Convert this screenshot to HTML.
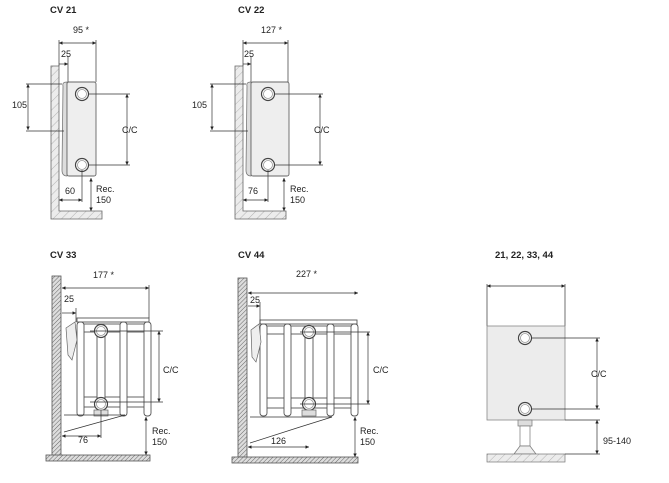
<!DOCTYPE html>
<html><head><meta charset="utf-8"><style>
html,body{margin:0;padding:0;background:#fff;}
svg{display:block;}
text{font-family:"Liberation Sans",sans-serif;font-size:9px;fill:#222;}
.t{font-weight:bold;font-size:9.5px;}
.d{stroke:#333;stroke-width:0.7;fill:none;}
.o{stroke:#555;stroke-width:0.9;fill:#fff;}
.p{stroke:#666;stroke-width:0.9;fill:#eee;}
.w{stroke:#666;stroke-width:0.8;fill:url(#h);}
</style></head><body>
<svg width="669" height="483" viewBox="0 0 669 483" xmlns="http://www.w3.org/2000/svg">
<defs>
<pattern id="h" width="6" height="6" patternUnits="userSpaceOnUse" patternTransform="rotate(45)">
<rect width="6" height="6" fill="#ececec"/><line x1="0" y1="0" x2="0" y2="6" stroke="#999" stroke-width="0.7"/></pattern>
<pattern id="h2" width="3" height="3" patternUnits="userSpaceOnUse" patternTransform="rotate(45)">
<rect width="3" height="3" fill="#ddd"/><line x1="0" y1="0" x2="0" y2="3" stroke="#666" stroke-width="1"/></pattern>
<marker id="a" viewBox="0 0 6 6" refX="6" refY="3" markerWidth="5" markerHeight="5" orient="auto-start-reverse"><path d="M0,0L6,3L0,6z" fill="#222"/></marker>
<g id="hole"><circle r="6.5" fill="#fff" stroke="#444" stroke-width="1.2"/><circle r="4.5" fill="none" stroke="#999" stroke-width="0.8"/></g>
</defs>

<!-- CV 21 -->
<text class="t" x="50" y="13">CV 21</text>
<path class="w" d="M51,66H59V211H102V219H51Z"/>
<path d="M63,86 Q62,82 67,82 L67,176 Q62,176 62,170 Z" fill="#ddd" stroke="#777" stroke-width="0.8"/>
<rect class="p" x="67" y="82" width="29" height="94" rx="2"/>
<use href="#hole" x="82" y="94"/><use href="#hole" x="82" y="165"/>
<line class="d" x1="59" y1="43" x2="96" y2="43" marker-start="url(#a)" marker-end="url(#a)"/>
<line class="d" x1="59" y1="40" x2="59" y2="66"/><line class="d" x1="96" y1="40" x2="96" y2="82"/>
<text x="73" y="33">95 *</text>
<line class="d" x1="59" y1="64" x2="68" y2="64" marker-end="url(#a)"/><line class="d" x1="68" y1="56" x2="68" y2="82"/>
<text x="61" y="57">25</text>
<line class="d" x1="28" y1="84" x2="28" y2="130" marker-start="url(#a)" marker-end="url(#a)"/>
<line class="d" x1="26" y1="84" x2="62" y2="84"/><line class="d" x1="26" y1="131" x2="64" y2="131"/>
<text x="12" y="108">105</text>
<line class="d" x1="127" y1="94" x2="127" y2="165" marker-start="url(#a)" marker-end="url(#a)"/>
<line class="d" x1="88" y1="94" x2="130" y2="94"/><line class="d" x1="88" y1="165" x2="130" y2="165"/>
<text x="122" y="133">C/C</text>
<line class="d" x1="59" y1="200" x2="82" y2="200" marker-start="url(#a)" marker-end="url(#a)"/><line class="d" x1="82" y1="170" x2="82" y2="202"/>
<text x="65" y="194">60</text>
<line class="d" x1="91" y1="178" x2="91" y2="211" marker-start="url(#a)" marker-end="url(#a)"/>
<text x="96" y="192">Rec.</text><text x="96" y="203">150</text>

<!-- CV 22 -->
<text class="t" x="238" y="13">CV 22</text>
<path class="w" d="M235,66H243V211H286V219H235Z"/>
<path d="M247,86 Q246,82 251,82 L251,176 Q246,176 246,170 Z" fill="#ddd" stroke="#777" stroke-width="0.8"/>
<rect class="p" x="251" y="82" width="38" height="94" rx="2"/>
<use href="#hole" x="268" y="94"/><use href="#hole" x="268" y="165"/>
<line class="d" x1="243" y1="43" x2="288" y2="43" marker-start="url(#a)" marker-end="url(#a)"/>
<line class="d" x1="243" y1="40" x2="243" y2="66"/><line class="d" x1="288" y1="40" x2="288" y2="82"/>
<text x="261" y="33">127 *</text>
<line class="d" x1="243" y1="64" x2="251" y2="64" marker-end="url(#a)"/><line class="d" x1="251" y1="56" x2="251" y2="82"/>
<text x="244" y="57">25</text>
<line class="d" x1="212" y1="84" x2="212" y2="130" marker-start="url(#a)" marker-end="url(#a)"/>
<line class="d" x1="210" y1="84" x2="246" y2="84"/><line class="d" x1="210" y1="131" x2="248" y2="131"/>
<text x="192" y="108">105</text>
<line class="d" x1="320" y1="94" x2="320" y2="165" marker-start="url(#a)" marker-end="url(#a)"/>
<line class="d" x1="274" y1="94" x2="323" y2="94"/><line class="d" x1="274" y1="165" x2="323" y2="165"/>
<text x="314" y="133">C/C</text>
<line class="d" x1="243" y1="200" x2="268" y2="200" marker-start="url(#a)" marker-end="url(#a)"/><line class="d" x1="268" y1="170" x2="268" y2="202"/>
<text x="248" y="194">76</text>
<line class="d" x1="284" y1="178" x2="284" y2="211" marker-start="url(#a)" marker-end="url(#a)"/>
<text x="290" y="192">Rec.</text><text x="290" y="203">150</text>

<!-- CV 33 -->
<text class="t" x="50" y="258">CV 33</text>
<rect x="52" y="276" width="9" height="182" fill="url(#h2)" stroke="#555" stroke-width="0.8"/>
<rect x="46" y="455" width="104" height="6" fill="url(#h2)" stroke="#555" stroke-width="0.8"/>
<rect class="o" x="77" y="318" width="72" height="4"/>
<rect class="o" x="83" y="324" width="62" height="8"/><rect class="o" x="83" y="397" width="62" height="10"/>
<rect class="o" x="97" y="333" width="8" height="65"/>
<rect class="o" x="77" y="322" width="7" height="94" rx="3"/>
<rect class="o" x="120" y="322" width="7" height="94" rx="3"/>
<rect class="o" x="144" y="322" width="7" height="94" rx="3"/>
<path d="M66,328 L75,322 L77,340 L72,360 L68,355 Z" fill="#eee" stroke="#666" stroke-width="0.7"/>
<use href="#hole" x="101" y="331"/><use href="#hole" x="101" y="404"/>
<rect x="94" y="410" width="14" height="6" fill="#ddd" stroke="#666" stroke-width="0.7"/>
<line class="d" x1="62" y1="288" x2="149" y2="288" marker-start="url(#a)" marker-end="url(#a)"/>
<line class="d" x1="149" y1="285" x2="149" y2="318"/>
<text x="93" y="278">177 *</text>
<line class="d" x1="62" y1="313" x2="76" y2="313" marker-end="url(#a)"/><line class="d" x1="76" y1="308" x2="76" y2="322"/>
<text x="64" y="302">25</text>
<line class="d" x1="159" y1="331" x2="159" y2="402" marker-start="url(#a)" marker-end="url(#a)"/>
<line class="d" x1="90" y1="331" x2="163" y2="331"/><line class="d" x1="90" y1="402" x2="163" y2="402"/>
<text x="163" y="373">C/C</text>
<line class="d" x1="62" y1="436" x2="101" y2="436" marker-start="url(#a)" marker-end="url(#a)"/><line class="d" x1="101" y1="410" x2="101" y2="438"/>
<line class="d" x1="64" y1="415" x2="125" y2="415"/><line class="d" x1="64" y1="432" x2="125" y2="415"/>
<text x="78" y="443">76</text>
<line class="d" x1="146" y1="417" x2="146" y2="455" marker-start="url(#a)" marker-end="url(#a)"/>
<text x="152" y="434">Rec.</text><text x="152" y="445">150</text>

<!-- CV 44 -->
<text class="t" x="238" y="258">CV 44</text>
<rect x="238" y="278" width="9" height="181" fill="url(#h2)" stroke="#555" stroke-width="0.8"/>
<rect x="232" y="457" width="126" height="6" fill="url(#h2)" stroke="#555" stroke-width="0.8"/>
<rect class="o" x="260" y="320" width="97" height="4"/>
<rect class="o" x="264" y="326" width="92" height="8"/><rect class="o" x="264" y="398" width="92" height="10"/>
<rect class="o" x="305" y="334" width="8" height="64"/>
<rect class="o" x="260" y="324" width="7" height="92" rx="3"/>
<rect class="o" x="284" y="324" width="7" height="92" rx="3"/>
<rect class="o" x="327" y="324" width="7" height="92" rx="3"/>
<rect class="o" x="351" y="324" width="7" height="92" rx="3"/>
<path d="M251,330 L259,324 L261,342 L256,362 L252,357 Z" fill="#eee" stroke="#666" stroke-width="0.7"/>
<use href="#hole" x="309" y="332"/><use href="#hole" x="309" y="404"/>
<rect x="302" y="410" width="14" height="6" fill="#ddd" stroke="#666" stroke-width="0.7"/>
<line class="d" x1="248" y1="293" x2="358" y2="293" marker-start="url(#a)" marker-end="url(#a)"/>
<text x="296" y="277">227 *</text>
<line class="d" x1="248" y1="306" x2="260" y2="306" marker-end="url(#a)"/><line class="d" x1="260" y1="302" x2="260" y2="324"/>
<text x="250" y="303">25</text>
<line class="d" x1="368" y1="332" x2="368" y2="404" marker-start="url(#a)" marker-end="url(#a)"/>
<line class="d" x1="300" y1="332" x2="370" y2="332"/><line class="d" x1="300" y1="404" x2="370" y2="404"/>
<text x="373" y="373">C/C</text>
<line class="d" x1="248" y1="447" x2="309" y2="447" marker-start="url(#a)" marker-end="url(#a)"/>
<line class="d" x1="250" y1="417" x2="332" y2="417"/><line class="d" x1="250" y1="443" x2="300" y2="427"/><line class="d" x1="300" y1="427" x2="332" y2="417"/>
<text x="271" y="444">126</text>
<line class="d" x1="355" y1="417" x2="355" y2="457" marker-start="url(#a)" marker-end="url(#a)"/>
<text x="360" y="434">Rec.</text><text x="360" y="445">150</text>

<!-- 21,22,33,44 -->
<text class="t" x="495" y="258">21, 22, 33, 44</text>
<line class="d" x1="487" y1="286" x2="565" y2="286" marker-start="url(#a)" marker-end="url(#a)"/>
<line class="d" x1="487" y1="284" x2="487" y2="326"/><line class="d" x1="565" y1="284" x2="565" y2="326"/>
<rect x="487" y="326" width="78" height="94" fill="#ececec" stroke="#888" stroke-width="0.8"/>
<use href="#hole" x="525" y="338"/><use href="#hole" x="525" y="409"/>
<line class="d" x1="531" y1="338" x2="600" y2="338"/><line class="d" x1="531" y1="409" x2="600" y2="409"/>
<line class="d" x1="597" y1="338" x2="597" y2="409" marker-start="url(#a)" marker-end="url(#a)"/>
<text x="591" y="377">C/C</text>
<rect x="518" y="420" width="14" height="6" fill="#ddd" stroke="#777" stroke-width="0.7"/>
<rect x="520" y="426" width="10" height="20" fill="#fff" stroke="#777" stroke-width="0.7"/>
<path d="M514,454 L520,446 L530,446 L536,454 Z" fill="#eee" stroke="#777" stroke-width="0.7"/>
<rect x="487" y="454" width="78" height="8" fill="url(#h)" stroke="#777" stroke-width="0.7"/>
<line class="d" x1="565" y1="420" x2="600" y2="420"/><line class="d" x1="565" y1="454" x2="600" y2="454"/>
<line class="d" x1="597" y1="420" x2="597" y2="454" marker-start="url(#a)" marker-end="url(#a)"/>
<text x="603" y="444">95-140</text>
</svg>
</body></html>
